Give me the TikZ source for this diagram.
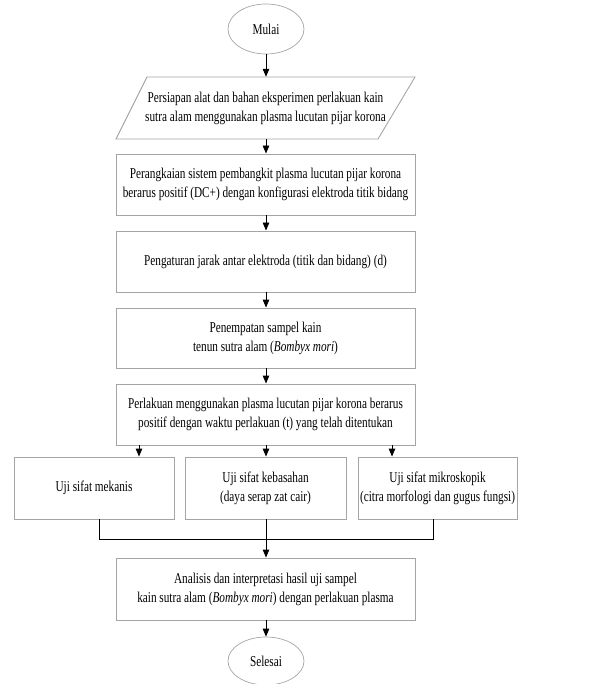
\documentclass[tikz,border=0pt]{standalone}
\usepackage{fontspec}
\setmainfont[FakeStretch=0.75]{Liberation Serif}
\usetikzlibrary{arrows.meta,shapes.geometric}
\definecolor{boxgray}{RGB}{165,165,165}
\tikzset{
  every node/.style={font=\fontsize{15}{19}\selectfont, align=center, inner sep=0pt},
  box/.style={draw=boxgray, line width=0.9pt, rectangle},
  term/.style={draw=boxgray, line width=0.7pt, ellipse, minimum width=76pt, minimum height=50pt},
  arr/.style={line width=0.9pt, -{Triangle[length=8pt,width=6.5pt]}},
  conn/.style={line width=0.9pt}
}
\begin{document}
\begin{tikzpicture}[x=1pt,y=-1pt]
\useasboundingbox (0,0) rectangle (603,684);
% start
\node[term] (mulai) at (266,29) {Mulai};
% parallelogram
\node[minimum width=299pt, minimum height=62pt] (prep) at (265.5,108) {Persiapan alat dan bahan eksperimen perlakuan kain\\sutra alam menggunakan plasma lucutan pijar korona};
\draw[boxgray, line width=0.9pt] (116,139) -- (378,139) -- (415,77) -- (147,77) -- cycle;
% boxes
\node[box, minimum width=299pt, minimum height=61pt] (rangkai) at (265.5,184.5) {Perangkaian sistem pembangkit plasma lucutan pijar korona\\berarus positif (DC+) dengan konfigurasi elektroda titik bidang};
\node[box, minimum width=299pt, minimum height=61pt] (jarak) at (265.5,261.5) {Pengaturan jarak antar elektroda (titik dan bidang) (d)};
\node[box, minimum width=299pt, minimum height=60pt] (sampel) at (265.5,338) {Penempatan sampel kain\\tenun sutra alam (\textit{Bombyx mori})};
\node[box, minimum width=299pt, minimum height=61pt] (perlakuan) at (265.5,414.5) {Perlakuan menggunakan plasma lucutan pijar korona berarus\\positif dengan waktu perlakuan (t) yang telah ditentukan};
\node[box, minimum width=160pt, minimum height=62pt] (mek) at (94,488) {Uji sifat mekanis};
\node[box, minimum width=161pt, minimum height=62pt] (basah) at (265.5,488) {Uji sifat kebasahan\\(daya serap zat cair)};
\node[box, minimum width=159pt, minimum height=62pt] (mikro) at (437.5,488) {Uji sifat mikroskopik\\(citra morfologi dan gugus fungsi)};
\node[box, minimum width=299pt, minimum height=62pt] (analisis) at (265.5,589) {Analisis dan interpretasi hasil uji sampel\\kain sutra alam (\textit{Bombyx mori}) dengan perlakuan plasma};
\node[term, minimum height=48pt] (selesai) at (266,661) {Selesai};
% junction
\coordinate (j) at (266,539);
% arrows
\draw[arr] (mulai.south) -- (prep.north -| mulai.south);
\draw[arr] (prep.south -| mulai.south) -- (rangkai.north -| mulai.south);
\draw[arr] (rangkai.south -| mulai.south) -- (jarak.north -| mulai.south);
\draw[arr] (jarak.south -| mulai.south) -- (sampel.north -| mulai.south);
\draw[arr] (sampel.south -| mulai.south) -- (perlakuan.north -| mulai.south);
\draw[arr] (perlakuan.south -| 139,0) -- (mek.north -| 139,0);
\draw[arr] (perlakuan.south -| mulai.south) -- (basah.north -| mulai.south);
\draw[arr] (perlakuan.south -| 392,0) -- (mikro.north -| 392,0);
\draw[conn] (mek.south -| 99,0) -- (99,539) -- (433,539) -- (mikro.south -| 433,0);
\draw[conn] (basah.south -| mulai.south) -- (j);
\draw[arr] (j) -- (analisis.north -| j);
\draw[arr] (analisis.south -| mulai.south) -- (selesai.north);
\end{tikzpicture}
\end{document}
